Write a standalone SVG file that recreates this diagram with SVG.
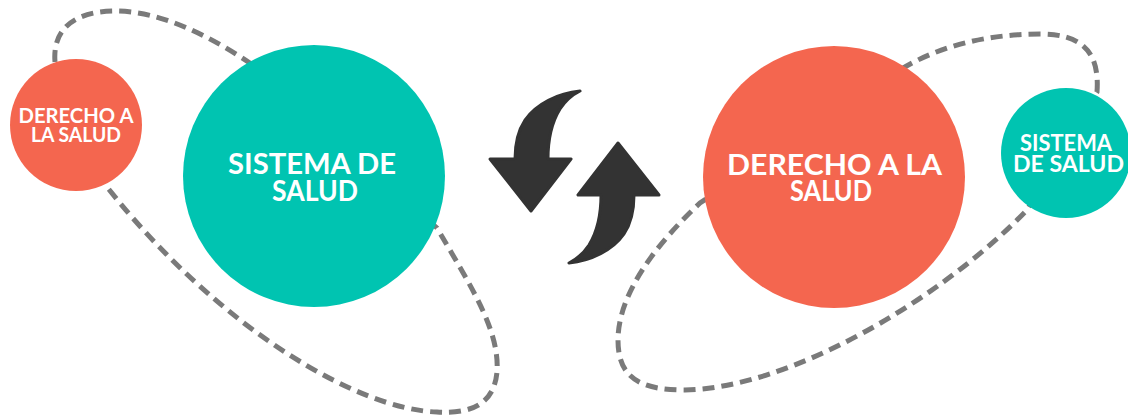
<svg xmlns="http://www.w3.org/2000/svg" width="1128" height="418" viewBox="0 0 1128 418">
<style>
.loop{fill:none;stroke:#7a7a7a;stroke-width:5;stroke-dasharray:12 7}
.red{fill:#f4664f}
.teal{fill:#00c4b1}
.lbl{fill:#ffffff;font-family:Lato,"Liberation Sans",sans-serif;font-weight:700;text-anchor:middle}
.arrow{fill:#333333;stroke:#333333;stroke-width:3;stroke-linejoin:round}
</style>
<rect width="1128" height="418" fill="#ffffff"/>
<g id="connectors">
<path class="loop" d="M55,62 C52,25 80,11 115,11 C160,11 210,35 260,70 L437,228 C470,285 500,330 497,372 C494,405 470,414 437,412 C360,410 220,330 107,187 Z"/>
<path class="loop" d="M1097,92 C1100,50 1080,34 1040,34 C990,34 940,45 900,70 L700,203 C655,245 618,295 618,340 C618,378 640,390 685,390 C790,388 940,300 1027,210 Z"/>
</g>
<g id="node-derecho-small">
<circle class="red" cx="76" cy="125" r="66"/>
<text class="lbl" font-size="20"><tspan x="76" y="123" textLength="115" lengthAdjust="spacingAndGlyphs">DERECHO A</tspan><tspan x="76" y="142" textLength="90" lengthAdjust="spacingAndGlyphs">LA SALUD</tspan></text>
</g>
<g id="node-sistema-big">
<circle class="teal" cx="314" cy="176" r="131"/>
<text class="lbl" font-size="29"><tspan x="312" y="174" textLength="168" lengthAdjust="spacingAndGlyphs">SISTEMA DE</tspan><tspan x="315" y="201" textLength="86" lengthAdjust="spacingAndGlyphs">SALUD</tspan></text>
</g>
<g id="swap-icon">
<path class="arrow" d="M580,91 C558,93 536,104 525,120 C517,132 515,145 515,159 L490,159 L531,211 L571,159 L548,159 C548,140 552,122 560,109 C566,100 572,95 580,91 Z"/>
<path class="arrow" transform="rotate(180 574.5 177)" d="M580,91 C558,93 536,104 525,120 C517,132 515,145 515,159 L490,159 L531,211 L571,159 L548,159 C548,140 552,122 560,109 C566,100 572,95 580,91 Z"/>
</g>
<g id="node-derecho-big">
<circle class="red" cx="834" cy="177" r="131"/>
<text class="lbl" font-size="29"><tspan x="834.5" y="175" textLength="215" lengthAdjust="spacingAndGlyphs">DERECHO A LA</tspan><tspan x="831" y="201" textLength="82" lengthAdjust="spacingAndGlyphs">SALUD</tspan></text>
</g>
<g id="node-sistema-small">
<circle class="teal" cx="1066" cy="153" r="65"/>
<text class="lbl" font-size="22"><tspan x="1066" y="151" textLength="92" lengthAdjust="spacingAndGlyphs">SISTEMA</tspan><tspan x="1068.5" y="172" textLength="111" lengthAdjust="spacingAndGlyphs">DE SALUD</tspan></text>
</g>
</svg>
